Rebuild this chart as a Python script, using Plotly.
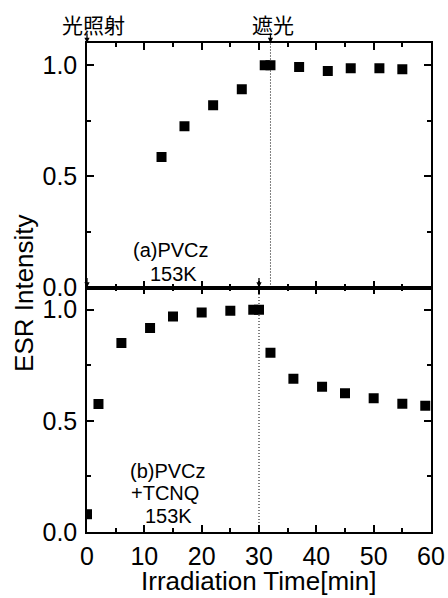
import plotly.graph_objects as go
from plotly.subplots import make_subplots

# ---- data ----
top_time = [13, 17, 22, 27, 31, 32, 37, 42, 46, 51, 55]
top_esr = [0.587, 0.725, 0.82, 0.892, 1.0, 1.0, 0.992, 0.974, 0.986, 0.986, 0.982]

bot_time = [0, 2, 6, 11, 15, 20, 25, 29, 30, 32, 36, 41, 45, 50, 55, 59]
bot_esr = [0.08, 0.576, 0.85, 0.918, 0.97, 0.988, 0.995, 1.0, 1.0, 0.807, 0.689,
           0.654, 0.624, 0.602, 0.577, 0.568]

top_on, top_off = 0, 32      # 光照射 / 遮光 in panel (a)
bot_on, bot_off = 0, 30      # panel (b)

x_ticks = [0, 10, 20, 30, 40, 50, 60]
y_ticks = [0.0, 0.5, 1.0]
y_ticklabels = ["0.0", "0.5", "1.0"]

LAT = "Liberation Sans, Arial, sans-serif"
JP = "Noto Sans CJK JP"

fig = make_subplots(rows=2, cols=1, shared_xaxes=True, vertical_spacing=0)

mk = dict(symbol="square", size=10, color="black")
fig.add_trace(go.Scatter(x=top_time, y=top_esr, mode="markers", marker=mk,
                         showlegend=False), row=1, col=1)
fig.add_trace(go.Scatter(x=bot_time, y=bot_esr, mode="markers", marker=mk,
                         showlegend=False), row=2, col=1)

axis_common = dict(showline=True, linecolor="black", linewidth=1.5, mirror="allticks",
                   ticks="inside", tickcolor="black", tickwidth=1.5, ticklen=7,
                   showgrid=False, zeroline=False, automargin=False)

for r in (1, 2):
    fig.update_xaxes(range=[0, 60], tickvals=x_ticks,
                     minor=dict(dtick=5, tick0=0, ticks="inside", ticklen=4,
                                tickcolor="black", tickwidth=1.5, showgrid=False),
                     tickfont=dict(family=LAT, size=25, color="black"),
                     ticklabelstandoff=1,
                     showticklabels=(r == 2), row=r, col=1, **axis_common)
    fig.update_yaxes(range=[0, 1.1], tickvals=y_ticks, ticktext=y_ticklabels,
                     minor=dict(dtick=0.25, tick0=0, ticks="inside", ticklen=4,
                                tickcolor="black", tickwidth=1.5, showgrid=False),
                     tickfont=dict(family=LAT, size=25, color="black"),
                     ticklabelstandoff=3,
                     row=r, col=1, **axis_common)

# dotted lines at light-off
dot = dict(color="black", width=1, dash="1px,2px")
fig.add_shape(type="line", xref="x", yref="y domain", x0=top_off, x1=top_off, y0=0, y1=1, line=dot)
fig.add_shape(type="line", xref="x2", yref="y2 domain", x0=bot_off, x1=bot_off, y0=0, y1=1, line=dot)

# arrows
for xr, yr, xv in [("x", "y", top_on), ("x", "y", top_off), ("x2", "y2", bot_on), ("x2", "y2", bot_off)]:
    fig.add_annotation(x=xv, y=1.1, xref=xr, yref=yr, text="", showarrow=True,
                       ax=0, ay=-11, arrowhead=2, arrowsize=0.8, arrowwidth=1.3,
                       arrowcolor="black")

# Japanese labels
fig.add_annotation(x=top_on, y=1.1, xref="x", yref="y", text="光照射", showarrow=False,
                   xshift=6, yshift=19, font=dict(family=JP, size=21, color="black"))
fig.add_annotation(x=top_off, y=1.1, xref="x", yref="y", text="遮光", showarrow=False,
                   xshift=3, yshift=19, font=dict(family=JP, size=21, color="black"))

# sample labels
af = dict(family=LAT, size=20, color="black")
fig.add_annotation(x=14.7, y=0.17, xref="x", yref="y", text="(a)PVCz", showarrow=False, font=af)
fig.add_annotation(x=15.0, y=0.06, xref="x", yref="y", text="153K", showarrow=False, font=af)
fig.add_annotation(x=14.1, y=0.275, xref="x2", yref="y2", text="(b)PVCz", showarrow=False, font=af)
fig.add_annotation(x=13.6, y=0.175, xref="x2", yref="y2", text="+TCNQ", showarrow=False, font=af)
fig.add_annotation(x=14.3, y=0.07, xref="x2", yref="y2", text="153K", showarrow=False, font=af)

# axis titles
fig.add_annotation(x=-0.183, y=0.489, xref="paper", yref="paper", text="ESR Intensity",
                   xanchor="center", yanchor="middle",
                   textangle=-90, showarrow=False, font=dict(family=LAT, size=26, color="black"))
fig.add_annotation(x=0.5, y=-0.1, xref="paper", yref="paper", text="Irradiation Time[min]",
                   xanchor="center", yanchor="middle",
                   showarrow=False, font=dict(family=LAT, size=26, color="black"))

fig.update_layout(width=448, height=598, margin=dict(l=87, r=17, t=43, b=66),
                  plot_bgcolor="white", paper_bgcolor="white", autosize=False)

fig.write_html("out.html", config={"responsive": False, "displayModeBar": False},
               post_script="document.body.style.margin='0';document.body.style.overflow='hidden';")
